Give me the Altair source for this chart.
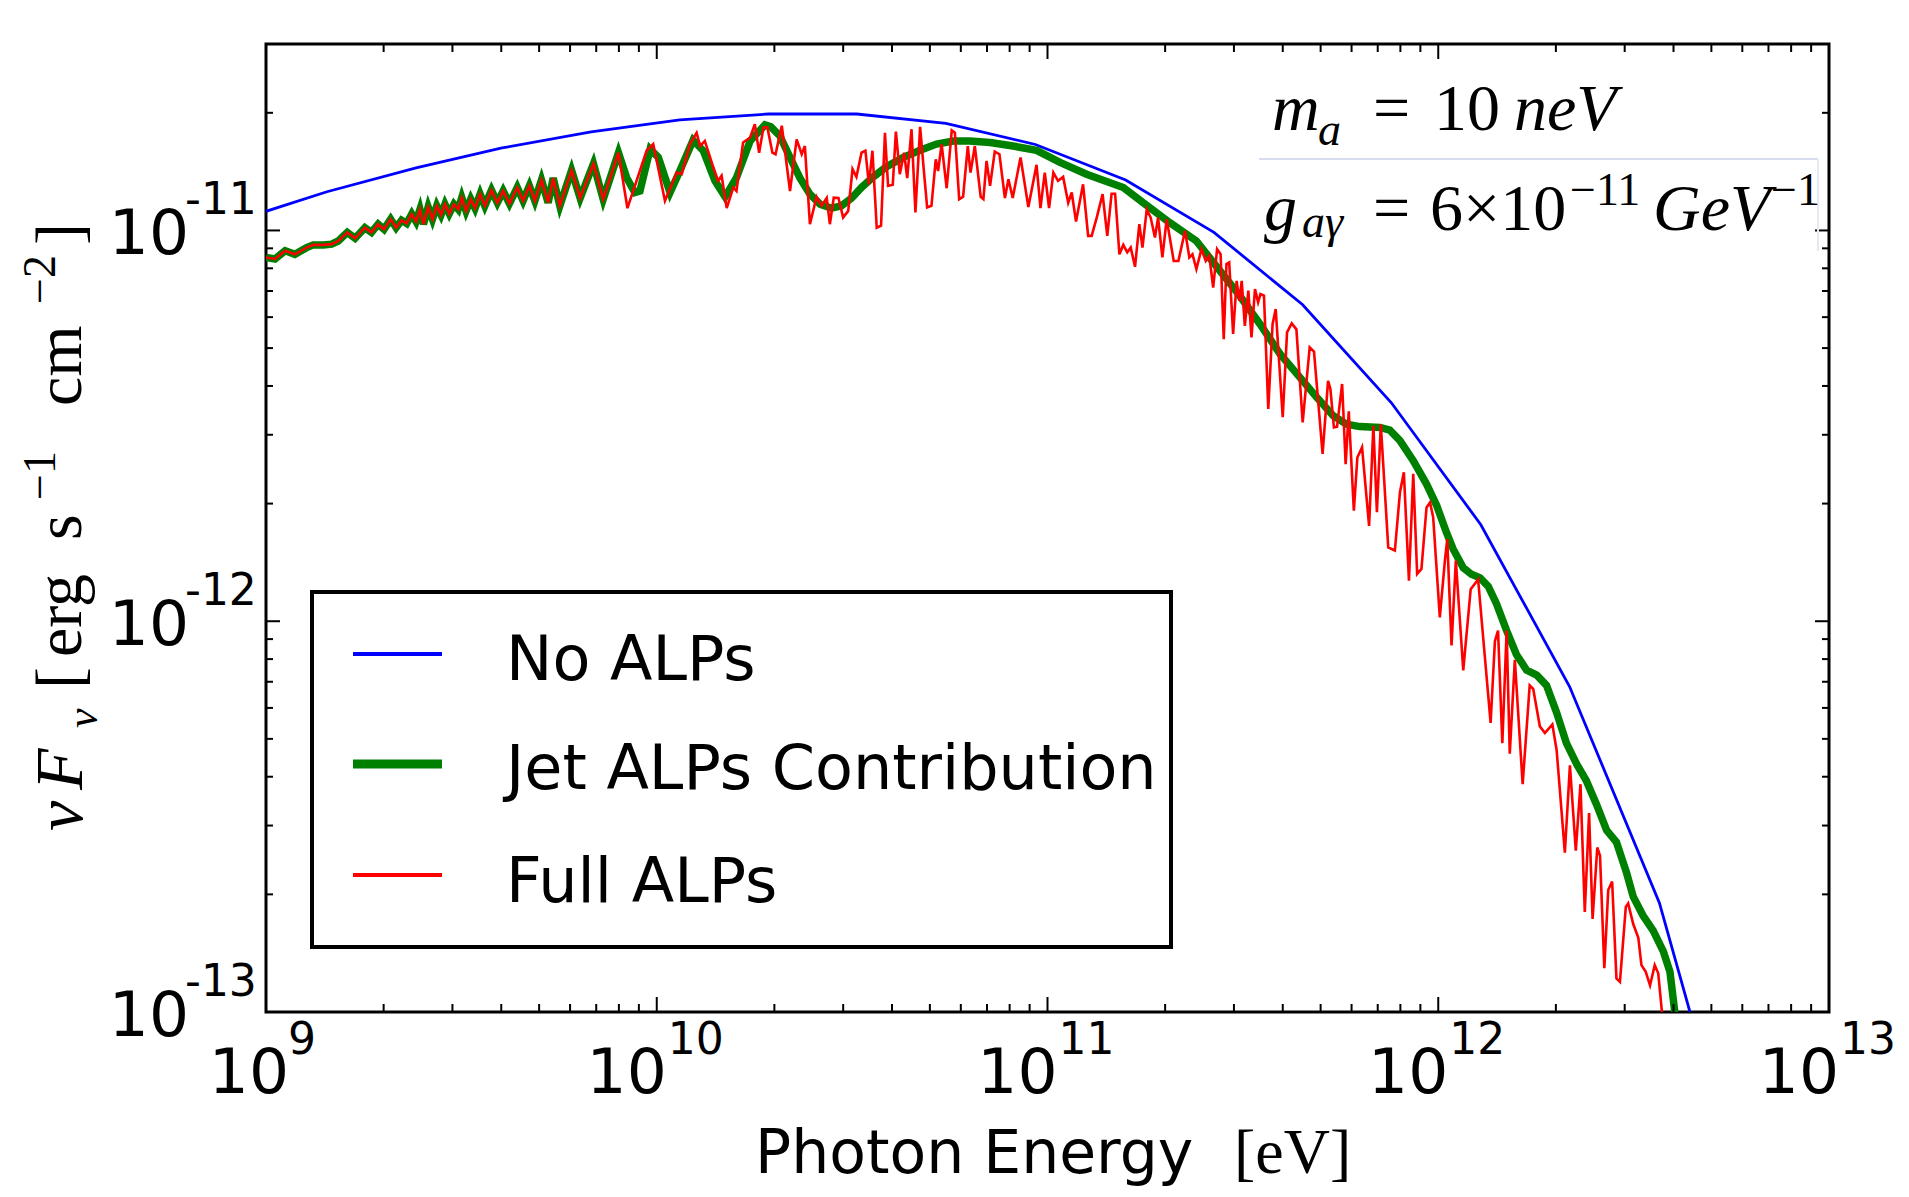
import altair as alt
import pandas as pd

W, H = 1563, 968

# ---------------- data: (log10 E [eV], log10 nuF_nu) ----------------
blue_pts = [(9.000, -10.951), (9.156, -10.901), (9.384, -10.840), (9.604, -10.789), (9.832, -10.748),
            (10.059, -10.717), (10.286, -10.702), (10.512, -10.702), (10.740, -10.726), (10.969, -10.780),
            (11.200, -10.871), (11.426, -11.005), (11.653, -11.190), (11.880, -11.441), (12.109, -11.753),
            (12.336, -12.167), (12.566, -12.721), (12.795, -13.538)]

# low-energy part where the jet and full ALP curves coincide
shared_pts = [(9.000, -11.069), (9.023, -11.073), (9.049, -11.052), (9.074, -11.061), (9.104, -11.044),
              (9.121, -11.037), (9.147, -11.037), (9.168, -11.035), (9.185, -11.027), (9.208, -11.005),
              (9.228, -11.020), (9.253, -10.993), (9.270, -11.005), (9.287, -10.984), (9.302, -10.997),
              (9.319, -10.971), (9.333, -10.993), (9.347, -10.974), (9.360, -10.982), (9.373, -10.958),
              (9.384, -10.977), (9.394, -10.946), (9.403, -10.984), (9.415, -10.940), (9.426, -10.971),
              (9.437, -10.937), (9.448, -10.960), (9.458, -10.933), (9.469, -10.957), (9.481, -10.933),
              (9.492, -10.946), (9.501, -10.916), (9.512, -10.950), (9.524, -10.920), (9.535, -10.943),
              (9.548, -10.907), (9.560, -10.937), (9.577, -10.897), (9.592, -10.929), (9.607, -10.899),
              (9.623, -10.931), (9.643, -10.890), (9.658, -10.924), (9.674, -10.886), (9.688, -10.924),
              (9.705, -10.871), (9.722, -10.929), (9.735, -10.866), (9.752, -10.937), (9.782, -10.846),
              (9.804, -10.917), (9.838, -10.829), (9.863, -10.920), (9.902, -10.801)]

green_tail = [(9.923, -10.865), (9.944, -10.903), (9.957, -10.899), (9.983, -10.792), (10.004, -10.813),
              (10.034, -10.903), (10.059, -10.848), (10.093, -10.769), (10.119, -10.796), (10.149, -10.873),
              (10.175, -10.914), (10.204, -10.865), (10.239, -10.771), (10.277, -10.730), (10.292, -10.735),
              (10.315, -10.758), (10.341, -10.813), (10.366, -10.865), (10.392, -10.907), (10.418, -10.933),
              (10.447, -10.943), (10.473, -10.937), (10.499, -10.917), (10.524, -10.890), (10.554, -10.863),
              (10.588, -10.837), (10.631, -10.813), (10.674, -10.795), (10.716, -10.779), (10.759, -10.771),
              (10.801, -10.771), (10.853, -10.775), (10.912, -10.784), (10.972, -10.795), (11.032, -10.826),
              (11.100, -10.856), (11.194, -10.890), (11.245, -10.929), (11.313, -10.980), (11.381, -11.027),
              (11.441, -11.103), (11.492, -11.167), (11.544, -11.240), (11.595, -11.316), (11.646, -11.376),
              (11.689, -11.427), (11.731, -11.474), (11.765, -11.496), (11.799, -11.502), (11.851, -11.504),
              (11.876, -11.511), (11.902, -11.538), (11.936, -11.589), (11.970, -11.649), (11.996, -11.704),
              (12.021, -11.773), (12.038, -11.815), (12.064, -11.863), (12.085, -11.880), (12.107, -11.889),
              (12.128, -11.911), (12.149, -11.955), (12.175, -12.024), (12.200, -12.085), (12.226, -12.125),
              (12.252, -12.138), (12.277, -12.164), (12.303, -12.234), (12.328, -12.312), (12.354, -12.365),
              (12.379, -12.408), (12.405, -12.469), (12.431, -12.535), (12.456, -12.565), (12.482, -12.644),
              (12.499, -12.705), (12.524, -12.753), (12.550, -12.792), (12.576, -12.845), (12.593, -12.897),
              (12.605, -12.997), (12.614, -13.106)]

red_tail = [(9.925, -10.943), (9.974, -10.796), (9.991, -10.779), (10.021, -10.924), (10.051, -10.852),
            (10.064, -10.856), (10.085, -10.779), (10.102, -10.750), (10.111, -10.784), (10.123, -10.771),
            (10.145, -10.839), (10.157, -10.873), (10.166, -10.860), (10.179, -10.943), (10.196, -10.890),
            (10.204, -10.899), (10.221, -10.775), (10.239, -10.762), (10.251, -10.728), (10.262, -10.801),
            (10.273, -10.737), (10.283, -10.736), (10.296, -10.801), (10.304, -10.805), (10.320, -10.732),
            (10.341, -10.899), (10.358, -10.767), (10.371, -10.805), (10.379, -10.784), (10.392, -10.984),
            (10.409, -10.914), (10.422, -10.937), (10.435, -10.917), (10.443, -10.984), (10.453, -10.916),
            (10.465, -10.917), (10.477, -10.967), (10.490, -10.950), (10.501, -10.843), (10.511, -10.863),
            (10.524, -10.801), (10.534, -10.796), (10.543, -10.882), (10.552, -10.796), (10.563, -10.993),
            (10.574, -10.988), (10.584, -10.750), (10.592, -10.886), (10.604, -10.883), (10.612, -10.747),
            (10.622, -10.856), (10.633, -10.801), (10.641, -10.866), (10.652, -10.741), (10.662, -10.954),
            (10.674, -10.735), (10.684, -10.852), (10.692, -10.941), (10.703, -10.937), (10.714, -10.818),
            (10.720, -10.848), (10.729, -10.779), (10.742, -10.892), (10.755, -10.744), (10.763, -10.750),
            (10.774, -10.920), (10.784, -10.914), (10.796, -10.784), (10.803, -10.852), (10.814, -10.784),
            (10.829, -10.914), (10.836, -10.920), (10.844, -10.822), (10.853, -10.886), (10.865, -10.798),
            (10.877, -10.805), (10.891, -10.917), (10.900, -10.869), (10.911, -10.917), (10.931, -10.813),
            (10.951, -10.940), (10.972, -10.832), (10.982, -10.943), (10.993, -10.852), (11.004, -10.943),
            (11.015, -10.852), (11.027, -10.873), (11.040, -10.863), (11.053, -10.929), (11.062, -10.903),
            (11.073, -10.977), (11.091, -10.882), (11.104, -11.014), (11.113, -11.014), (11.126, -10.967),
            (11.141, -10.907), (11.153, -11.014), (11.164, -10.906), (11.173, -10.906), (11.184, -11.061),
            (11.194, -11.037), (11.204, -11.056), (11.213, -11.044), (11.224, -11.093), (11.235, -10.984),
            (11.243, -11.044), (11.254, -10.946), (11.264, -10.967), (11.275, -11.018), (11.283, -10.967),
            (11.294, -11.069), (11.305, -10.971), (11.323, -11.078), (11.335, -11.078), (11.352, -11.001),
            (11.363, -11.069), (11.371, -11.061), (11.381, -11.099), (11.394, -11.048), (11.405, -11.078),
            (11.414, -11.065), (11.424, -11.146), (11.434, -11.048), (11.443, -11.061), (11.451, -11.278),
            (11.458, -11.086), (11.465, -11.082), (11.475, -11.265), (11.484, -11.129), (11.491, -11.180),
            (11.497, -11.129), (11.505, -11.244), (11.514, -11.154), (11.522, -11.274), (11.531, -11.150),
            (11.539, -11.184), (11.545, -11.163), (11.554, -11.167), (11.565, -11.457), (11.576, -11.240),
            (11.584, -11.201), (11.602, -11.478), (11.613, -11.261), (11.625, -11.238), (11.637, -11.253),
            (11.653, -11.491), (11.671, -11.299), (11.682, -11.310), (11.704, -11.572), (11.718, -11.385),
            (11.724, -11.406), (11.733, -11.504), (11.741, -11.502), (11.754, -11.393), (11.763, -11.598),
            (11.771, -11.463), (11.784, -11.717), (11.793, -11.581), (11.805, -11.555), (11.823, -11.756),
            (11.834, -11.500), (11.843, -11.721), (11.853, -11.496), (11.872, -11.811), (11.889, -11.819),
            (11.902, -11.670), (11.912, -11.619), (11.925, -11.896), (11.936, -11.623), (11.946, -11.879),
            (11.957, -11.866), (11.970, -11.709), (11.979, -11.696), (11.987, -11.734), (12.004, -11.990),
            (12.017, -11.845), (12.023, -11.790), (12.034, -12.062), (12.045, -11.845), (12.064, -12.126),
            (12.083, -11.918), (12.102, -11.893), (12.134, -12.260), (12.145, -12.051), (12.153, -12.024),
            (12.164, -12.312), (12.175, -12.024), (12.183, -12.339), (12.196, -12.099), (12.216, -12.417),
            (12.234, -12.164), (12.243, -12.173), (12.260, -12.269), (12.273, -12.286), (12.292, -12.264),
            (12.303, -12.330), (12.324, -12.592), (12.337, -12.369), (12.352, -12.587), (12.364, -12.417),
            (12.375, -12.744), (12.386, -12.491), (12.395, -12.762), (12.407, -12.579), (12.414, -12.600),
            (12.425, -12.888), (12.435, -12.688), (12.445, -12.666), (12.456, -12.914), (12.465, -12.923),
            (12.480, -12.731), (12.486, -12.722), (12.499, -12.775), (12.512, -12.810), (12.520, -12.880),
            (12.531, -12.897), (12.542, -12.932), (12.554, -12.880), (12.563, -12.901), (12.576, -13.037),
            (12.584, -13.170)]

series_names = ["No ALPs", "Jet ALPs Contribution", "Full ALPs"]
series_colors = ["#0000ff", "#008000", "#ff0000"]

x_tick_vals = [1e9, 1e10, 1e11, 1e12, 1e13]
x_tick_base = ["10", "10", "10", "10", "10"]
x_tick_exps = ["9", "10", "11", "12", "13"]
y_tick_vals = [1e-13, 1e-12, 1e-11]
y_tick_base = ["10", "10", "10"]
y_tick_exps = ["-13", "-12", "-11"]
x_minor_vals = [m * 10.0 ** k for k in range(9, 13) for m in range(2, 10)]
y_minor_vals = [m * 1e-13 for m in range(2, 10)] + [m * 1e-12 for m in range(2, 10)] + [2e-11]

x_title_sans = "Photon Energy"
x_title_serif = "[eV]"


def to_df(pts):
    return pd.DataFrame({"E": [10 ** a for a, b in pts],
                         "F": [10 ** b for a, b in pts],
                         "i": list(range(len(pts)))})


blue_df = to_df(blue_pts)
green_df = to_df(shared_pts + green_tail)
red_df = to_df(shared_pts + red_tail)

xs = alt.Scale(type="log", domain=[1e9, 1e13], nice=False)
ys = alt.Scale(type="log", domain=[1e-13, 3e-11], nice=False)
X = lambda f: alt.X(f, scale=xs, axis=None)
Y = lambda f: alt.Y(f, scale=ys, axis=None)

one = pd.DataFrame({"k": [0]})
layers = []


def line(df, color, width):
    return alt.Chart(df).mark_line(color=color, strokeWidth=width, clip=True).encode(
        x=X("E:Q"), y=Y("F:Q"), order="i:Q")


layers.append(line(blue_df, series_colors[0], 2.8))
layers.append(line(green_df, series_colors[1], 7.5))
layers.append(line(red_df, series_colors[2], 2.6))

# ---------------- inward ticks ----------------
xmaj = pd.DataFrame({"v": x_tick_vals})
xmin = pd.DataFrame({"v": x_minor_vals})
ymaj = pd.DataFrame({"v": y_tick_vals})
ymin = pd.DataFrame({"v": y_minor_vals})
for df, L in ((xmaj, 15), (xmin, 8)):
    layers.append(alt.Chart(df).mark_rule(color="black", strokeWidth=2).encode(
        x=X("v:Q"), y=alt.value(H), y2=alt.value(H - L)))
    layers.append(alt.Chart(df).mark_rule(color="black", strokeWidth=2).encode(
        x=X("v:Q"), y=alt.value(0), y2=alt.value(L)))
for df, L in ((ymaj, 14), (ymin, 7)):
    layers.append(alt.Chart(df).mark_rule(color="black", strokeWidth=2).encode(
        y=Y("v:Q"), x=alt.value(0), x2=alt.value(L)))
    layers.append(alt.Chart(df).mark_rule(color="black", strokeWidth=2).encode(
        y=Y("v:Q"), x=alt.value(W), x2=alt.value(W - L)))

# ---------------- tick labels ----------------
SANS = "DejaVu Sans"
xlab = pd.DataFrame({"v": x_tick_vals, "base": x_tick_base, "exp": x_tick_exps})
ylab = pd.DataFrame({"v": y_tick_vals, "base": y_tick_base, "exp": y_tick_exps})
for cond, dx_base, dx_exp in (("length(datum.exp) == 1", 23, 22), ("length(datum.exp) == 2", 10, 11)):
    layers.append(alt.Chart(xlab).transform_filter(cond).mark_text(
        align="right", baseline="alphabetic", fontSize=63, font=SANS, dx=dx_base, color="black").encode(
        x=X("v:Q"), y=alt.value(H + 81), text="base:N"))
    layers.append(alt.Chart(xlab).transform_filter(cond).mark_text(
        align="left", baseline="alphabetic", fontSize=44, font=SANS, dx=dx_exp, color="black").encode(
        x=X("v:Q"), y=alt.value(H + 42), text="exp:N"))
layers.append(alt.Chart(ylab).mark_text(
    align="right", baseline="alphabetic", fontSize=63, font=SANS, dy=24, color="black").encode(
    x=alt.value(-77), y=Y("v:Q"), text="base:N"))
layers.append(alt.Chart(ylab).mark_text(
    align="left", baseline="alphabetic", fontSize=44, font=SANS, dy=-16, color="black").encode(
    x=alt.value(-81), y=Y("v:Q"), text="exp:N"))


def txt(s, x, y, size, font="Liberation Serif", style="normal", angle=0, align="left", color="black"):
    return alt.Chart(one).mark_text(text=s, fontSize=size, font=font, fontStyle=style, angle=angle,
                                    align=align, baseline="alphabetic", color=color).encode(
        x=alt.value(x), y=alt.value(y))


# ---------------- axis titles ----------------
layers.append(txt(x_title_sans, 489, 1129, 60, font=SANS))
layers.append(txt(x_title_serif, 968, 1129, 64))

# y title, read bottom to top
layers.append(txt("\u03bd", -184, 787, 68, style="italic", angle=270))
layers.append(txt("F", -184, 746, 68, style="italic", angle=270))
layers.append(txt("\u03bd", -169, 684, 44, style="italic", angle=270))
layers.append(txt("[", -185, 645, 66, angle=270))
layers.append(txt("erg", -185, 613, 66, angle=270))
layers.append(txt("s", -185, 496, 66, angle=270))
layers.append(txt("\u22121", -211, 456, 46, angle=270))
layers.append(txt("cm", -185, 362, 66, angle=270))
layers.append(txt("\u22122", -211, 260, 46, angle=270))
layers.append(txt("]", -185, 201, 66, angle=270))

# ---------------- parameter annotation ----------------
layers.append(alt.Chart(one).mark_rule(color="#d8dcef", strokeWidth=2).encode(
    x=alt.value(993), x2=alt.value(1552), y=alt.value(115)))
layers.append(alt.Chart(one).mark_rule(color="#e6e8f4", strokeWidth=2).encode(
    x=alt.value(1552), y=alt.value(115), y2=alt.value(207)))
layers.append(txt("m", 1006, 86, 66, style="italic"))
layers.append(txt("a", 1052, 101, 46, style="italic"))
layers.append(txt("=", 1107, 86, 66))
layers.append(txt("10", 1168, 86, 66))
layers.append(txt("neV", 1248, 86, 66, style="italic"))
layers.append(txt("g", 998, 186, 66, style="italic"))
layers.append(txt("a\u03b3", 1036, 193, 46, style="italic"))
layers.append(txt("=", 1107, 186, 66))
layers.append(txt("6\u00d710", 1164, 186, 66))
layers.append(txt("\u221211", 1304, 161, 46))
layers.append(txt("GeV", 1387, 186, 66, style="italic"))
layers.append(txt("\u22121", 1505, 161, 46))

# ---------------- legend ----------------
layers.append(alt.Chart(one).mark_rect(fill="white", stroke="black", strokeWidth=4).encode(
    x=alt.value(46), x2=alt.value(905), y=alt.value(548), y2=alt.value(903)))
leg_line_y = [610, 720, 831]
leg_text_y = [636, 745, 858]
leg_width = [4, 9, 4]
for name, color, ly, ty, lw in zip(series_names, series_colors, leg_line_y, leg_text_y, leg_width):
    layers.append(alt.Chart(one).mark_rule(color=color, strokeWidth=lw).encode(
        x=alt.value(87), x2=alt.value(176), y=alt.value(ly)))
    layers.append(txt(name, 240, ty, 62, font=SANS))

chart = alt.layer(*layers).properties(
    width=W, height=H,
    autosize=alt.AutoSizeParams(type="none"),
    padding={"left": 258, "top": 36, "right": 72, "bottom": 177},
    background="white",
).configure_view(stroke="black", strokeWidth=3)

chart.save("out.html", embed_options={"renderer": "svg", "actions": False})
